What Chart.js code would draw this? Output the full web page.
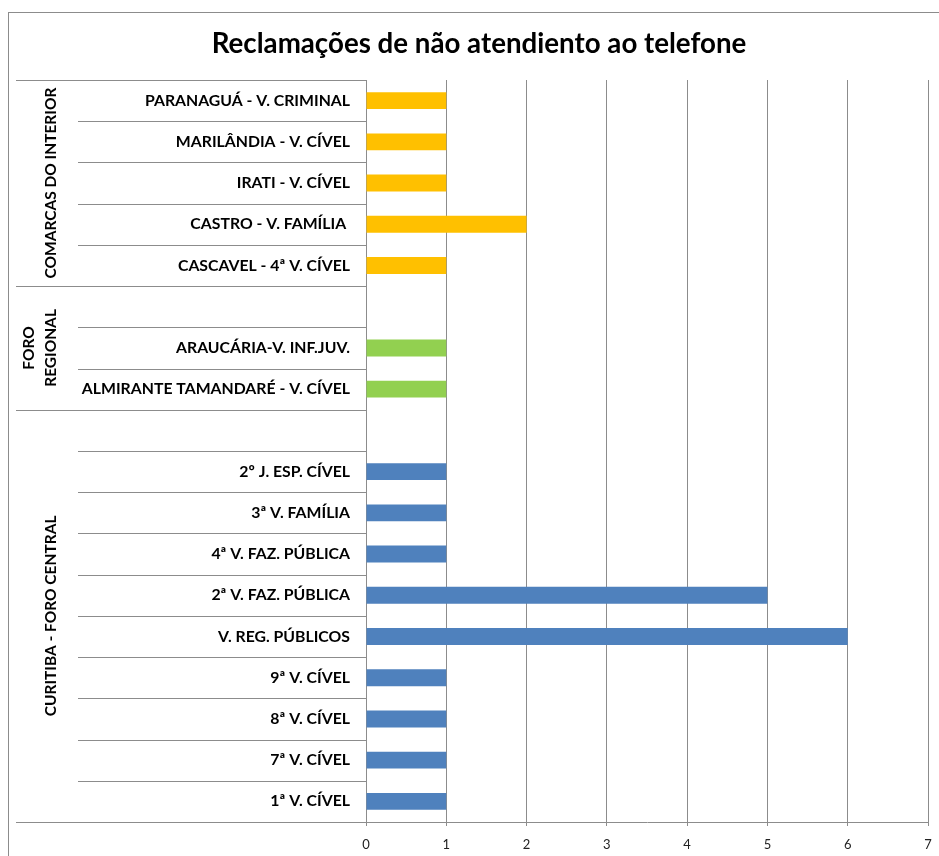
<!DOCTYPE html>
<html>
<head>
<meta charset="utf-8">
<script src="https://cdn.jsdelivr.net/npm/chart.js@4.4.0/dist/chart.umd.min.js"></script>
<style>
  html, body { margin: 0; padding: 0; background: #fff; overflow: hidden; }
  #frame { position: absolute; left: 8px; top: 12px; width: 1100px; height: 1000px; border: 1px solid #8c8c8c; box-sizing: border-box; }
  #wrap { position: absolute; left: 0; top: 0; width: 939px; height: 856px; }
</style>
</head>
<body>
<div id="frame"></div>
<div id="wrap"><canvas id="c" width="939" height="856"></canvas></div>
<script>
const titleText = 'Reclamações de não atendiento ao telefone';
const categories = [
  'PARANAGUÁ - V. CRIMINAL',
  'MARILÂNDIA - V. CÍVEL',
  'IRATI - V. CÍVEL',
  'CASTRO - V. FAMÍLIA ',
  'CASCAVEL - 4ª V. CÍVEL',
  '',
  'ARAUCÁRIA-V. INF.JUV.',
  'ALMIRANTE TAMANDARÉ - V. CÍVEL',
  '',
  '2º J. ESP. CÍVEL',
  '3ª V. FAMÍLIA',
  '4ª V. FAZ. PÚBLICA',
  '2ª V. FAZ. PÚBLICA',
  'V. REG. PÚBLICOS',
  '9ª V. CÍVEL',
  '8ª V. CÍVEL',
  '7ª V. CÍVEL',
  '1ª V. CÍVEL'
];
const values = [1, 1, 1, 2, 1, null, 1, 1, null, 1, 1, 1, 5, 6, 1, 1, 1, 1];
const groupNames = [['COMARCAS DO INTERIOR'], ['FORO', 'REGIONAL'], ['CURITIBA - FORO CENTRAL']];
const groupStart = [0, 5, 8];
const groupEnd = [4, 7, 17];
const groupColors = ['#FFC000', '#92D050', '#4F81BD'];
const xTicks = [0, 1, 2, 3, 4, 5, 6, 7];

const barColors = categories.map((_, i) => {
  for (let g = 0; g < groupStart.length; g++) {
    if (i >= groupStart[g] && i <= groupEnd[g]) return groupColors[g];
  }
  return '#4F81BD';
});

const FONT = 'Lato, "Open Sans", sans-serif';
const LINE = '#8c8c8c';

const groupPlugin = {
  id: 'groupPlugin',
  afterDraw(chart) {
    const ctx = chart.ctx;
    const y = chart.scales.y;
    const area = chart.chartArea;
    const half = (y.getPixelForValue(1) - y.getPixelForValue(0)) / 2;
    const n = categories.length;
    const groupEdges = new Set([0, n]);
    groupStart.forEach(s => groupEdges.add(s));
    ctx.save();
    // title
    ctx.fillStyle = '#000';
    ctx.font = 'bold 27.7px ' + FONT;
    ctx.textAlign = 'center';
    ctx.textBaseline = 'middle';
    ctx.fillText(titleText, 479, 44);
    // separators
    ctx.strokeStyle = LINE;
    ctx.lineWidth = 1;
    for (let b = 0; b <= n; b++) {
      const py = Math.round(y.getPixelForValue(b) - half) + 0.5;
      const x0 = groupEdges.has(b) ? 16 : 78;
      ctx.beginPath();
      ctx.moveTo(x0, py);
      ctx.lineTo(area.left, py);
      ctx.stroke();
    }
    ctx.font = 'bold 15.5px ' + FONT;
    groupNames.forEach((lines, g) => {
      const top = y.getPixelForValue(groupStart[g]) - half;
      const bot = y.getPixelForValue(groupEnd[g]) + half;
      const cy = (top + bot) / 2;
      const lh = 22;
      lines.forEach((t, k) => {
        const cx = 51 - (lines.length - 1 - k) * lh;
        ctx.save();
        ctx.translate(cx, cy);
        ctx.rotate(-Math.PI / 2);
        ctx.fillText(t, 0, 0);
        ctx.restore();
      });
    });
    ctx.restore();
  }
};

new Chart(document.getElementById('c'), {
  type: 'bar',
  data: {
    labels: categories,
    datasets: [{
      data: values,
      backgroundColor: barColors,
      borderWidth: 0,
      categoryPercentage: 1,
      barPercentage: 0.41
    }]
  },
  options: {
    indexAxis: 'y',
    responsive: false,
    animation: false,
    devicePixelRatio: 1,
    layout: { padding: { left: 0, right: 11, top: 80, bottom: 0 } },
    plugins: {
      legend: { display: false },
      tooltip: { enabled: false },
      title: { display: false }
    },
    scales: {
      x: {
        min: 0, max: 7,
        afterBuildTicks(s) { s.ticks = xTicks.map(v => ({ value: v })); },
        afterFit(s) { s.height = 34; s.paddingRight = 4; s.paddingLeft = 4; },
        grid: { color: LINE, lineWidth: 1, drawTicks: true, tickLength: 4, tickColor: LINE },
        border: { display: true, color: LINE },
        ticks: { color: '#222', font: { family: FONT, size: 13 }, padding: 11 }
      },
      y: {
        afterFit(s) { s.width = 366; },
        grid: { display: false, drawTicks: false },
        border: { display: true, color: LINE },
        ticks: { color: '#000', font: { family: FONT, size: 15.8, weight: 'bold' }, padding: 16, autoSkip: false }
      }
    }
  },
  plugins: [groupPlugin]
});
</script>
</body>
</html>
